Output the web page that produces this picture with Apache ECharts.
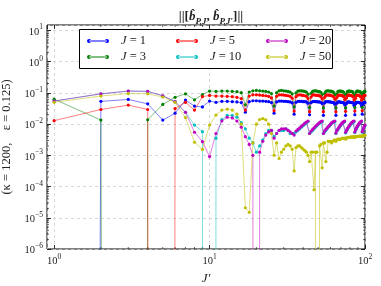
<!DOCTYPE html>
<html><head><meta charset="utf-8">
<script src="https://cdn.jsdelivr.net/npm/echarts@6/dist/echarts.min.js"></script>
<style>html,body{margin:0;padding:0;background:#fff}#c{width:381px;height:286px}</style>
</head><body><div id="c"></div>
<script>
// J' values (x)
const jPrime = [1,2,3,4,5,6,7,8,9,10,11,12,13,14,15,16,17,18,19,20,21,22,23,24,25,26,27,28,29,30,
31,32,33,34,35,36,37,38,39,40,41,42,43,44,45,46,47,48,49,50,51,52,53,54,55,56,57,58,59,60,
61,62,63,64,65,66,67,68,69,70,71,72,73,74,75,76,77,78,79,80,81,82,83,84,85,86,87,88,89,90,
91,92,93,94,95,96,97,98,99,100];

// ||[b_{P,J}, b_{P,J'}]|| for each J (0 = exactly zero)
const valJ1 = [0,0.0537,0.0617,0.0447,0.0135,0.0224,0.0589,0.0380,0.0355,0.0550,
0.0501,0.0537,0.0537,0.0525,0.0513,0.0490,0.0240,0.0525,0.0562,0.0562,
0.0550,0.0550,0.0537,0.0525,0.0490,0.0224,0.0513,0.0550,0.0550,0.0537,
0.0537,0.0525,0.0513,0.0479,0.0209,0.0501,0.0537,0.0537,0.0537,0.0525,
0.0525,0.0513,0.0468,0.0200,0.0490,0.0525,0.0537,0.0525,0.0525,0.0513,
0.0513,0.0501,0.0457,0.0191,0.0479,0.0525,0.0525,0.0525,0.0513,0.0513,
0.0501,0.0501,0.0490,0.0437,0.0191,0.0468,0.0513,0.0513,0.0513,0.0501,
0.0501,0.0490,0.0479,0.0417,0.0191,0.0457,0.0501,0.0513,0.0513,0.0501,
0.0501,0.0490,0.0490,0.0479,0.0398,0.0200,0.0447,0.0501,0.0501,0.0501,
0.0490,0.0490,0.0479,0.0468,0.0380,0.0209,0.0437,0.0490,0.0501,0.0490];
const valJ3 = [0.0631,0.0135,0,0.0138,0.0427,0.0724,0.0933,0.0603,0.0891,0.115,
0.112,0.115,0.115,0.112,0.110,0.102,0.0417,0.107,0.117,0.120,
0.117,0.115,0.112,0.107,0.0955,0.0380,0.102,0.117,0.120,0.117,
0.115,0.112,0.107,0.0933,0.0355,0.100,0.115,0.117,0.117,0.115,
0.112,0.107,0.0912,0.0339,0.0977,0.112,0.117,0.117,0.115,0.112,
0.110,0.105,0.0891,0.0331,0.0955,0.112,0.117,0.117,0.115,0.115,
0.112,0.110,0.102,0.0871,0.0331,0.0933,0.112,0.115,0.115,0.115,
0.112,0.110,0.105,0.0851,0.0331,0.0912,0.110,0.115,0.115,0.115,
0.112,0.112,0.110,0.102,0.0832,0.0339,0.0891,0.110,0.115,0.115,
0.112,0.112,0.110,0.102,0.0813,0.0347,0.0871,0.107,0.112,0.112];
const valJ5 = [0.0129,0.0295,0.0407,0.0295,0,0.0316,0.0501,0.0282,0.0759,0.0832,
0.0794,0.0794,0.0776,0.0759,0.0724,0.0661,0.0282,0.0794,0.0871,0.0871,
0.0851,0.0832,0.0813,0.0776,0.0692,0.0269,0.0776,0.0871,0.0871,0.0851,
0.0832,0.0813,0.0776,0.0676,0.0263,0.0759,0.0851,0.0871,0.0851,0.0832,
0.0813,0.0776,0.0661,0.0251,0.0741,0.0851,0.0871,0.0851,0.0832,0.0832,
0.0813,0.0759,0.0646,0.0251,0.0724,0.0832,0.0871,0.0851,0.0851,0.0832,
0.0813,0.0794,0.0741,0.0631,0.0251,0.0708,0.0832,0.0851,0.0851,0.0832,
0.0832,0.0794,0.0759,0.0617,0.0257,0.0692,0.0813,0.0851,0.0851,0.0832,
0.0832,0.0813,0.0794,0.0741,0.0603,0.0263,0.0676,0.0813,0.0851,0.0832,
0.0832,0.0813,0.0794,0.0741,0.0589,0.0269,0.0661,0.0794,0.0832,0.0832];
const valJ10 = [0.055,0.0933,0.115,0.112,0.0813,0.0525,0.024,0.00933,0.00575,0,
0.00355,0.0141,0.0191,0.0191,0.0166,0.0112,0.00708,0.00355,0.00251,0.00126,
0.002,0.00316,0.00501,0.00631,0.00631,0.00398,0.00501,0.00631,0.00631,0.00631,
0.00708,0.00631,0.00501,0.00501,0.00501,0.00562,0.00631,0.00708,0.00794,0.00891,
0.0100,0.0112,0.0120,0.00501,0.00562,0.00631,0.00708,0.00794,0.00891,0.0100,
0.0107,0.0115,0.0120,0.00501,0.00562,0.00631,0.00708,0.00794,0.00871,0.00955,
0.0105,0.0112,0.0117,0.0120,0.00501,0.00603,0.00676,0.00759,0.00851,0.00933,
0.0102,0.0110,0.0115,0.0120,0.00525,0.00603,0.00676,0.00759,0.00832,0.00912,
0.0100,0.0107,0.0112,0.0117,0.0120,0.00537,0.00631,0.00708,0.00794,0.00871,
0.00955,0.0105,0.0110,0.0115,0.0120,0.0055,0.00631,0.00724,0.00813,0.00891];
const valJ20 = [0.055,0.0933,0.115,0.112,0.0813,0.0525,0.024,0.0055,0.00275,0.000912,
0.00501,0.0126,0.0166,0.0158,0.0126,0.00794,0.00398,0.00224,0.001,0,
0.00126,0.00282,0.00447,0.00562,0.00631,0.00355,0.00501,0.00631,0.00708,0.00708,
0.00708,0.00631,0.00562,0.00501,0.00447,0.00603,0.00676,0.00759,0.00851,0.00955,
0.0107,0.0117,0.0126,0.00501,0.00603,0.00676,0.00759,0.00851,0.00933,0.0102,
0.0112,0.0120,0.0126,0.00501,0.00603,0.00676,0.00759,0.00832,0.00912,0.0100,
0.0110,0.0117,0.0123,0.0126,0.00525,0.00631,0.00708,0.00794,0.00891,0.00977,
0.0107,0.0115,0.0120,0.0126,0.0055,0.00631,0.00708,0.00794,0.00871,0.00955,
0.0105,0.0112,0.0117,0.0123,0.0126,0.00562,0.00661,0.00741,0.00832,0.00912,
0.0100,0.0107,0.0115,0.0120,0.0126,0.00575,0.00661,0.00759,0.00851,0.00933];
const valJ50 = [0.0501,0.0794,0.0955,0.0933,0.0741,0.0501,0.0162,0.00263,0.00155,0.00933,
0.0195,0.0282,0.0302,0.0282,0.0209,0.0100,2.1e-5,1.5e-5,0.00251,0.0100,
0.0141,0.0151,0.0138,0.0100,0.00501,0.001,0.00251,0.000794,0.00126,0.00158,
0.002,0.00224,0.002,0.00158,0.000316,0.00178,0.002,0.002,0.00178,0.00158,
0.00141,0.00126,0.001,0.000631,0.00126,0.00126,7.9e-5,0.00126,0.00126,0,
0.002,0.00224,0.000398,0.00251,0.00251,0.000631,0.00126,0.00282,0.00282,0.00282,
0.00251,0.00282,0.00302,0.00316,0.00282,0.00316,0.00331,0.00331,0.00316,0.00339,
0.00347,0.00355,0.00347,0.00355,0.00331,0.00363,0.00372,0.0038,0.00372,0.0038,
0.00389,0.00389,0.0038,0.00398,0.00389,0.00372,0.00398,0.00407,0.00407,0.00398,
0.00407,0.00417,0.00417,0.00407,0.00417,0.00398,0.00427,0.00427,0.00437,0.00437];

const seriesNames = ['J = 1','J = 3','J = 5','J = 10','J = 20','J = 50'];
const seriesVals = [valJ1, valJ3, valJ5, valJ10, valJ20, valJ50];
const colors = ['#0000ff','#008000','#ff0000','#00bfbf','#bf00bf','#bfbf00'];
const yTickLabels = ['10^-6','10^-5','10^-4','10^-3','10^-2','10^-1','10^0','10^1'];
const xTickLabels = ['10^0','10^1','10^2'];
// minor (log) tick positions
const xMinorTicks = [2,3,4,5,6,7,8,9,20,30,40,50,60,70,80,90];
const yMinorTicks = [2e-6,3e-6,4e-6,5e-6,6e-6,7e-6,8e-6,9e-6,2e-5,3e-5,4e-5,5e-5,6e-5,7e-5,8e-5,9e-5,
  2e-4,3e-4,4e-4,5e-4,6e-4,7e-4,8e-4,9e-4,2e-3,3e-3,4e-3,5e-3,6e-3,7e-3,8e-3,9e-3,
  0.02,0.03,0.04,0.05,0.06,0.07,0.08,0.09,0.2,0.3,0.4,0.5,0.6,0.7,0.8,0.9,2,3,4,5,6,7,8,9];

const SERIF = "'Liberation Serif','DejaVu Serif',serif";
const CLIP = 1e-300; // log-scale clipping of exact zeros (as in the original plot)

function powLabel(v) {
  const e = Math.round(Math.log10(v));
  if (Math.abs(Math.log10(v) - e) > 0.01) return '';
  return '{b|10}{s|' + (e < 0 ? '\u2212' + (-e) : e) + '}';
}
const tickRich = {
  b: {fontFamily: SERIF, fontSize: 10.5, color: '#222', lineHeight: 14, verticalAlign: 'bottom'},
  s: {fontFamily: SERIF, fontSize: 7.5, color: '#222', lineHeight: 9, verticalAlign: 'top'}
};

const legendIcon = 'path://M0.5,2.5a2,2 0 1,0 4,0a2,2 0 1,0 -4,0zM17.5,2.5a2,2 0 1,0 4,0a2,2 0 1,0 -4,0zM2.5,2.1h17v0.8h-17z';
function legendFmt(name) { return '{i|J}{n|' + name.slice(1) + '}'; }
const legendRich = {
  i: {fontFamily: SERIF, fontStyle: 'italic', fontSize: 12.5, color: '#222', padding: [0,0,0,7]},
  n: {fontFamily: SERIF, fontSize: 12.5, color: '#222'}
};
function mkLegend(names, left) {
  return {
    data: names, left: left, top: 29, orient: 'vertical', icon: legendIcon, z: 10,
    itemWidth: 22, itemHeight: 5, itemGap: 2, formatter: legendFmt,
    textStyle: {rich: legendRich, lineHeight: 14}, selectedMode: false
  };
}

const axisCommon = {
  type: 'log', logBase: 10,
  axisLine: {show: false},
  axisTick: {show: true, inside: true, length: 4, lineStyle: {color: '#000', width: 0.8}},
  minorTick: {show: false},
};

function minorTickX(params, api) {
  const x = api.coord([api.value(0), 1])[0];
  const cs = params.coordSys;
  const st = {stroke: '#000', lineWidth: 0.6};
  return {type: 'group', children: [
    {type: 'line', shape: {x1: x, y1: cs.y + cs.height, x2: x, y2: cs.y + cs.height - 2}, style: st},
    {type: 'line', shape: {x1: x, y1: cs.y, x2: x, y2: cs.y + 2}, style: st}
  ]};
}
function minorTickY(params, api) {
  const y = api.coord([1, api.value(1)])[1];
  const cs = params.coordSys;
  const st = {stroke: '#000', lineWidth: 0.6};
  return {type: 'group', children: [
    {type: 'line', shape: {x1: cs.x, y1: y, x2: cs.x + 2, y2: y}, style: st},
    {type: 'line', shape: {x1: cs.x + cs.width, y1: y, x2: cs.x + cs.width - 2, y2: y}, style: st}
  ]};
}

const dataSeries = seriesNames.map((name, k) => ({
  name: name, type: 'line', xAxisIndex: 0, yAxisIndex: 0,
  data: jPrime.map((x, i) => [x, seriesVals[k][i] > 0 ? seriesVals[k][i] : CLIP]),
  symbol: 'circle', symbolSize: 3.2, clip: true,
  itemStyle: {color: colors[k]},
  lineStyle: {color: colors[k], width: 1, opacity: 0.5},
  emphasis: {disabled: true}
}));

const option = {
  animation: false,
  backgroundColor: '#fff',
  title: {
    text: '{n|||[}{i|b\u0302}{sub|P,J}{n|, }{i|b\u0302}{sub|P,J\u2032}{n|]||}',
    left: 206, textAlign: 'center', top: 3,
    textStyle: {rich: {
      n: {fontFamily: SERIF, fontSize: 13, color: '#222', lineHeight: 18, verticalAlign: 'middle'},
      i: {fontFamily: SERIF, fontStyle: 'italic', fontSize: 13, color: '#222', lineHeight: 18, verticalAlign: 'middle'},
      sub: {fontFamily: SERIF, fontStyle: 'italic', fontSize: 9, color: '#222', lineHeight: 18, verticalAlign: 'bottom'}
    }}
  },
  grid: {left: 47, right: 16, top: 25, bottom: 37, show: true, borderColor: '#000', borderWidth: 1,
         backgroundColor: 'transparent', containLabel: false, outerBoundsMode: 'none'},
  legend: [
    mkLegend(['J = 1','J = 3'], 82),
    mkLegend(['J = 5','J = 10'], 171),
    mkLegend(['J = 20','J = 50'], 261)
  ],
  graphic: [{
    type: 'rect', left: 79, top: 29, z: 3, zlevel: 0,
    shape: {width: 253, height: 39},
    style: {fill: '#fff', stroke: '#000', lineWidth: 1}
  }],
  xAxis: [
    Object.assign({}, axisCommon, {
      min: 0.9, max: 100, splitNumber: 2, position: 'bottom',
      name: 'J\u2032', nameLocation: 'middle', nameGap: 19,
      nameTextStyle: {fontFamily: SERIF, fontStyle: 'italic', fontSize: 13, color: '#222'},
      axisLabel: {formatter: powLabel, rich: tickRich, margin: 4, showMinLabel: false},
      splitLine: {show: true, lineStyle: {color: '#cfcfcf', type: [3, 3], width: 0.8}}
    }),
    Object.assign({}, axisCommon, {
      min: 0.9, max: 100, splitNumber: 2, position: 'top',
      axisLabel: {show: false}, splitLine: {show: false}
    })
  ],
  yAxis: [
    Object.assign({}, axisCommon, {
      min: 1e-6, max: 15, splitNumber: 7, position: 'left',
      name: '(\u03BA = 1200,    \u03B5 = 0.125)', nameLocation: 'middle', nameGap: 27, nameRotate: 90,
      nameTextStyle: {fontFamily: SERIF, fontSize: 12.5, color: '#222'},
      axisLabel: {formatter: powLabel, rich: tickRich, margin: 4, showMaxLabel: false},
      splitLine: {show: true, lineStyle: {color: '#cfcfcf', type: [3, 3], width: 0.8}}
    }),
    Object.assign({}, axisCommon, {
      min: 1e-6, max: 15, splitNumber: 7, position: 'right',
      axisLabel: {show: false}, splitLine: {show: false}
    })
  ],
  series: dataSeries.concat([
    {type: 'custom', name: 'xminor', xAxisIndex: 0, yAxisIndex: 0, silent: true, z: 1,
     data: xMinorTicks.map(v => [v, 1]), renderItem: minorTickX},
    {type: 'custom', name: 'yminor', xAxisIndex: 0, yAxisIndex: 0, silent: true, z: 1,
     data: yMinorTicks.map(v => [1, v]), renderItem: minorTickY}
  ])
};

const chart = echarts.init(document.getElementById('c'), null, {renderer: 'canvas'});
chart.setOption(option);
</script>
</body></html>
